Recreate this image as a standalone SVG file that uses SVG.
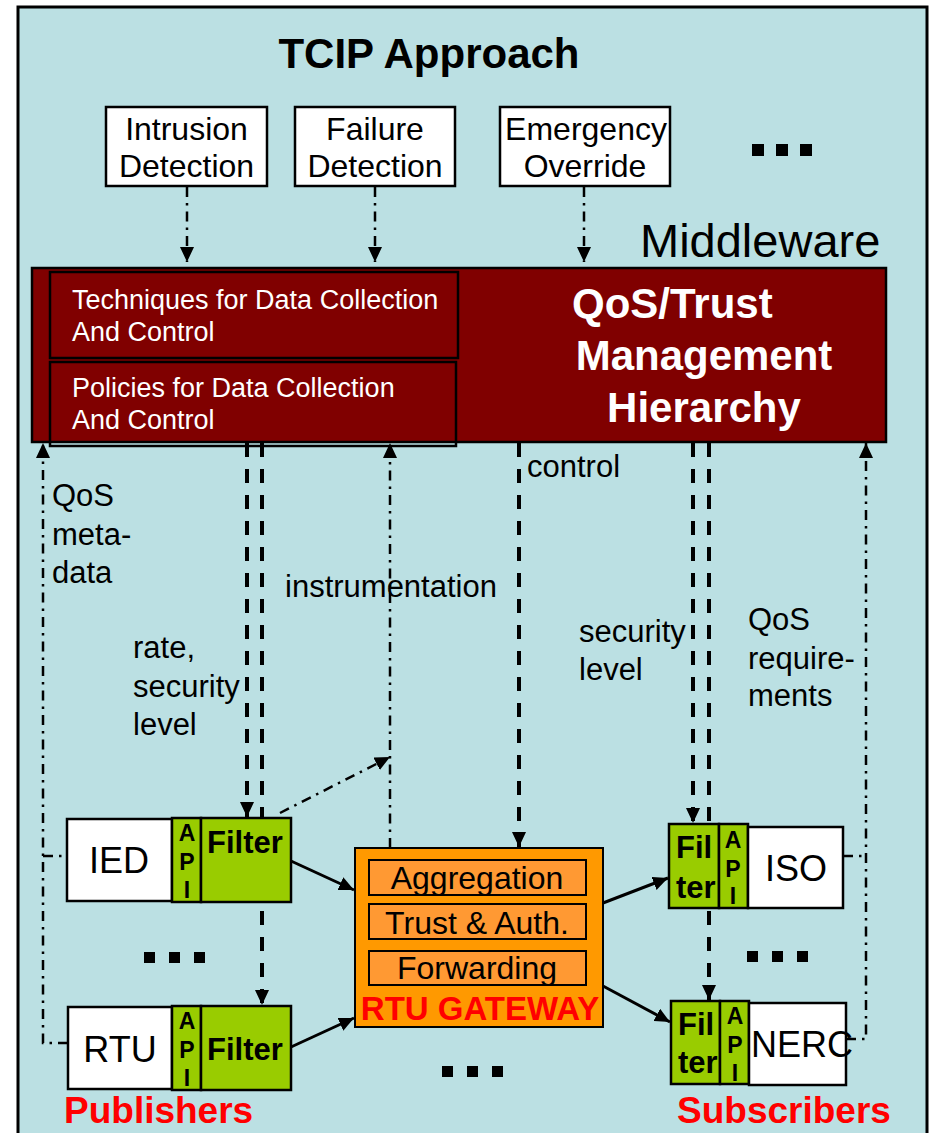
<svg xmlns="http://www.w3.org/2000/svg" width="929" height="1133" viewBox="0 0 929 1133">
  <style>
    text { font-family: "Liberation Sans", Arial, sans-serif; }
    .lbl { font-size: 31px; fill: #000; }
    .box { font-size: 32px; fill: #000; text-anchor: middle; }
    .wlbl { font-size: 27px; fill: #fff; }
    .big { font-size: 42px; font-weight: bold; fill: #fff; }
    .node { stroke: #000; stroke-width: 2.5; }
    .white { fill: #fff; }
    .green { fill: #99CC00; }
    .api { font-size: 23px; font-weight: bold; fill: #000; text-anchor: middle; }
    .flt { font-size: 31px; font-weight: bold; fill: #000; }
    .dev { font-size: 36px; fill: #000; }
    .red { font-size: 37px; font-weight: bold; fill: #FF0000; }
    .dashed { fill: none; stroke: #000; stroke-width: 4; stroke-dasharray: 14 12; }
    .dashdot { fill: none; stroke: #000; stroke-width: 2.5; stroke-dasharray: 10 6 2.5 6; }
    .solid { fill: none; stroke: #000; stroke-width: 3; }
    .dot { fill: #000; }
  </style>
  <defs>
    <marker id="head" markerUnits="userSpaceOnUse" markerWidth="16" markerHeight="14" refX="15" refY="7" orient="auto">
      <path d="M0,0 L15,7 L0,14 z" fill="#000"/>
    </marker>
  </defs>

  <!-- backdrop panel -->
  <rect x="18" y="7" width="909" height="1140" fill="#BBE0E3" stroke="#000" stroke-width="3"/>
  <text x="429" y="68" text-anchor="middle" style="font-size:42px;font-weight:bold">TCIP Approach</text>
  <text x="640" y="257" style="font-size:47px">Middleware</text>

  <!-- ellipsis marks -->
  <g id="ellipses">
    <rect class="dot" x="752" y="144" width="12" height="12"/>
    <rect class="dot" x="776" y="144" width="12" height="12"/>
    <rect class="dot" x="800" y="144" width="12" height="12"/>
    <rect class="dot" x="144" y="952" width="11" height="11"/>
    <rect class="dot" x="169" y="952" width="11" height="11"/>
    <rect class="dot" x="194" y="952" width="11" height="11"/>
    <rect class="dot" x="442" y="1066" width="11" height="11"/>
    <rect class="dot" x="467" y="1066" width="11" height="11"/>
    <rect class="dot" x="492" y="1066" width="11" height="11"/>
    <rect class="dot" x="747" y="951" width="11" height="11"/>
    <rect class="dot" x="772" y="951" width="11" height="11"/>
    <rect class="dot" x="797" y="951" width="11" height="11"/>
  </g>

  <!-- connectors -->
  <g id="connectors">
    <path class="dashdot" d="M187,187 V262" marker-end="url(#head)"/>
    <path class="dashdot" d="M375,187 V262" marker-end="url(#head)"/>
    <path class="dashdot" d="M584,187 V262" marker-end="url(#head)"/>

    <path class="dashdot" d="M68,1043 H43 V443" marker-end="url(#head)"/>
    <path class="dashdot" d="M43,856 H67"/>
    <path class="dashdot" d="M846,1039 H866 V443" marker-end="url(#head)"/>
    <path class="dashdot" d="M843,856 H866"/>
    <path class="dashdot" d="M390,848 V443" marker-end="url(#head)"/>
    <path class="dashdot" d="M280,813 L390,757" marker-end="url(#head)"/>

    <path class="dashed" d="M247,443 V817" marker-end="url(#head)"/>
    <path class="dashed" d="M262,443 V1005" marker-end="url(#head)"/>
    <path class="dashed" d="M519,443 V847" marker-end="url(#head)"/>
    <path class="dashed" d="M693,443 V823" marker-end="url(#head)"/>
    <path class="dashed" d="M709,443 V1000" marker-end="url(#head)"/>

    <path class="solid" d="M291,861 L354,890" marker-end="url(#head)"/>
    <path class="solid" d="M291,1047 L354,1018" marker-end="url(#head)"/>
    <path class="solid" d="M603,903 L668,878" marker-end="url(#head)"/>
    <path class="solid" d="M603,986 L670,1022" marker-end="url(#head)"/>
  </g>

  <!-- connector labels -->
  <g id="labels">
    <text class="lbl" x="52" y="506">QoS</text>
    <text class="lbl" x="52" y="545">meta-</text>
    <text class="lbl" x="52" y="583">data</text>
    <text class="lbl" x="133" y="658">rate,</text>
    <text class="lbl" x="133" y="697">security</text>
    <text class="lbl" x="133" y="735">level</text>
    <text class="lbl" x="285" y="597">instrumentation</text>
    <text class="lbl" x="527" y="477">control</text>
    <text class="lbl" x="579" y="642">security</text>
    <text class="lbl" x="579" y="680">level</text>
    <text class="lbl" x="748" y="630">QoS</text>
    <text class="lbl" x="748" y="669">require-</text>
    <text class="lbl" x="748" y="706">ments</text>
  </g>

  <!-- event sources -->
  <g id="intrusion">
    <rect class="node white" x="106" y="107" width="161" height="79"/>
    <text class="box" x="186.5" y="140">Intrusion</text>
    <text class="box" x="186.5" y="177">Detection</text>
  </g>
  <g id="failure">
    <rect class="node white" x="295" y="107" width="160" height="79"/>
    <text class="box" x="375" y="140">Failure</text>
    <text class="box" x="375" y="177">Detection</text>
  </g>
  <g id="emergency">
    <rect class="node white" x="500" y="107" width="170" height="79"/>
    <text class="box" x="586" y="140">Emergency</text>
    <text class="box" x="585" y="177">Override</text>
  </g>

  <!-- middleware management block -->
  <g id="middleware">
    <rect x="32" y="268" width="854" height="174" fill="#800000" stroke="#000" stroke-width="2.5"/>
    <rect x="50" y="272" width="408" height="86" fill="none" stroke="#000" stroke-width="2.5"/>
    <rect x="50" y="362" width="406" height="84" fill="none" stroke="#000" stroke-width="2.5"/>
    <text class="wlbl" x="72" y="309">Techniques for Data Collection</text>
    <text class="wlbl" x="72" y="341">And Control</text>
    <text class="wlbl" x="72" y="397">Policies for Data Collection</text>
    <text class="wlbl" x="72" y="429">And Control</text>
    <text class="big" x="572" y="318">QoS/Trust</text>
    <text class="big" x="704" y="370" text-anchor="middle">Management</text>
    <text class="big" x="704" y="422" text-anchor="middle">Hierarchy</text>
  </g>

  <!-- publishers -->
  <g id="ied">
    <rect class="node white" x="67" y="819" width="105" height="82"/>
    <rect class="node green" x="172" y="818" width="29" height="84"/>
    <rect class="node green" x="201" y="818" width="90" height="84"/>
    <text class="dev" x="119" y="873" text-anchor="middle">IED</text>
    <text class="api" x="187" y="841">A</text>
    <text class="api" x="187" y="870">P</text>
    <text class="api" x="187" y="898">I</text>
    <text class="flt" x="207" y="853">Filter</text>
  </g>
  <g id="rtu">
    <rect class="node white" x="68" y="1007" width="104" height="82"/>
    <rect class="node green" x="172" y="1006" width="29" height="84"/>
    <rect class="node green" x="201" y="1006" width="90" height="84"/>
    <text class="dev" x="120" y="1062" text-anchor="middle">RTU</text>
    <text class="api" x="187" y="1029">A</text>
    <text class="api" x="187" y="1058">P</text>
    <text class="api" x="187" y="1086">I</text>
    <text class="flt" x="207" y="1060">Filter</text>
  </g>
  <text class="red" x="64" y="1123">Publishers</text>

  <!-- gateway -->
  <g id="gateway">
    <rect x="355" y="848" width="248" height="179" fill="#FF9900" stroke="#000" stroke-width="2"/>
    <rect x="369" y="860" width="217" height="35" fill="#FF9933" stroke="#000" stroke-width="2"/>
    <rect x="369" y="904" width="217" height="35" fill="#FF9933" stroke="#000" stroke-width="2"/>
    <rect x="369" y="951" width="217" height="34" fill="#FF9933" stroke="#000" stroke-width="2"/>
    <text class="lbl" x="477" y="889" text-anchor="middle" style="font-size:32px">Aggregation</text>
    <text class="lbl" x="477" y="934" text-anchor="middle" style="font-size:32px">Trust &amp; Auth.</text>
    <text class="lbl" x="477" y="979" text-anchor="middle" style="font-size:32px">Forwarding</text>
    <text x="480" y="1020" text-anchor="middle" style="font-size:33px;font-weight:bold;fill:#FF0000">RTU GATEWAY</text>
  </g>

  <!-- subscribers -->
  <g id="iso">
    <rect class="node green" x="669" y="824" width="50" height="84"/>
    <rect class="node green" x="719" y="824" width="29" height="84"/>
    <rect class="node white" x="748" y="827" width="95" height="81"/>
    <text class="flt" x="676" y="858">Fil</text>
    <text class="flt" x="676" y="898">ter</text>
    <text class="api" x="733" y="848">A</text>
    <text class="api" x="733" y="877">P</text>
    <text class="api" x="733" y="904">I</text>
    <text class="dev" x="796" y="881" text-anchor="middle">ISO</text>
  </g>
  <g id="nerc">
    <rect class="node green" x="671" y="1001" width="49" height="83"/>
    <rect class="node green" x="720" y="1001" width="29" height="83"/>
    <rect class="node white" x="749" y="1003" width="97" height="82"/>
    <text class="flt" x="678" y="1035">Fil</text>
    <text class="flt" x="678" y="1073">ter</text>
    <text class="api" x="735" y="1024">A</text>
    <text class="api" x="735" y="1053">P</text>
    <text class="api" x="735" y="1081">I</text>
    <text class="dev" x="751" y="1057">NERC</text>
  </g>
  <text class="red" x="677" y="1123">Subscribers</text>
</svg>
